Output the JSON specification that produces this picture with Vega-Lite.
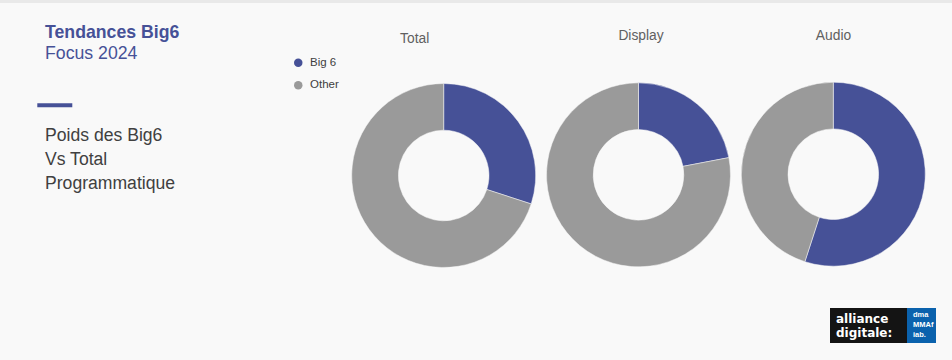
{
  "$schema": "https://vega.github.io/schema/vega-lite/v6.json",
  "width": 952,
  "height": 360,
  "autosize": {"type": "fit", "contains": "padding"},
  "padding": 0,
  "background": "#f9f9f9",
  "config": {"view": {"stroke": null}, "font": "Liberation Sans"},
  "datasets": {
    "donut": [
      {"chart": "Total", "segment": "Big 6", "value": 30},
      {"chart": "Total", "segment": "Other", "value": 70},
      {"chart": "Display", "segment": "Big 6", "value": 22},
      {"chart": "Display", "segment": "Other", "value": 78},
      {"chart": "Audio", "segment": "Big 6", "value": 55},
      {"chart": "Audio", "segment": "Other", "value": 45}
    ]
  },
  "resolve": {"scale": {"x": "independent", "y": "independent"}},
  "layer": [
    {
      "data": {"values": [{"label": "top"}]},
      "mark": {"type": "tick", "orient": "horizontal", "size": 952, "thickness": 3, "color": "#e9e9e9", "opacity": 1},
      "encoding": {
        "x": {"field": "label", "type": "nominal", "scale": {"type": "point", "range": [476, 476], "padding": 0}, "axis": null},
        "y": {"field": "label", "type": "nominal", "scale": {"type": "point", "range": [1.5, 1.5], "padding": 0}, "axis": null}
      }
    },
    {
      "data": {"name": "donut"},
      "transform": [
        {"stack": "value", "groupby": ["chart"], "sort": [{"field": "segment", "order": "ascending"}], "offset": "normalize", "as": ["v0", "v1"]}
      ],
      "mark": {"type": "arc", "outerRadius": 92, "innerRadius": 45.3, "stroke": "#f9f9f9", "strokeWidth": 0.5},
      "encoding": {
        "x": {"field": "chart", "type": "nominal", "scale": {"type": "point", "domain": ["Total", "Display", "Audio"], "range": [443.7, 833.3], "padding": 0}, "axis": null},
        "y": {"field": "chart", "type": "nominal", "scale": {"type": "point", "domain": ["Total", "Display", "Audio"], "range": [175.5, 174.2], "padding": 0}, "axis": null},
        "theta": {"field": "v0", "type": "quantitative", "stack": null, "scale": {"domain": [0, 1]}},
        "theta2": {"field": "v1"},
        "color": {
          "field": "segment",
          "type": "nominal",
          "scale": {"domain": ["Big 6", "Other"], "range": ["#465197", "#9a9a9a"]},
          "legend": {
            "orient": "none",
            "legendX": 292.5,
            "legendY": 57,
            "title": null,
            "padding": 0,
            "symbolType": "circle",
            "symbolSize": 72,
            "symbolStrokeWidth": 0,
            "symbolOpacity": 1,
            "labelFont": "Liberation Sans",
            "labelFontSize": 11.5,
            "labelColor": "#404040",
            "labelOffset": 6,
            "rowPadding": 9.5
          }
        },
        "tooltip": [{"field": "chart"}, {"field": "segment"}, {"field": "value"}]
      }
    },
    {
      "data": {"values": [{"chart": "Display"}, {"chart": "Audio"}]},
      "mark": {"type": "text", "align": "center", "baseline": "alphabetic", "font": "Liberation Sans", "fontSize": 13.8, "color": "#606060"},
      "encoding": {
        "text": {"field": "chart"},
        "x": {"field": "chart", "type": "nominal", "scale": {"type": "point", "domain": ["Display", "Audio"], "range": [641, 833.5], "padding": 0}, "axis": null},
        "y": {"field": "chart", "type": "nominal", "scale": {"type": "point", "domain": ["Display", "Audio"], "range": [40, 40], "padding": 0}, "axis": null}
      }
    },
    {
      "data": {"values": [{"chart": "Total"}]},
      "mark": {"type": "text", "align": "center", "baseline": "alphabetic", "font": "Liberation Sans", "fontSize": 13.8, "color": "#606060"},
      "encoding": {
        "text": {"field": "chart"},
        "x": {"field": "chart", "type": "nominal", "scale": {"type": "point", "range": [414.7, 414.7], "padding": 0}, "axis": null},
        "y": {"field": "chart", "type": "nominal", "scale": {"type": "point", "range": [43, 43], "padding": 0}, "axis": null}
      }
    },
    {
      "data": {"values": [{"label": "Tendances Big6"}]},
      "mark": {"type": "text", "align": "left", "baseline": "alphabetic", "font": "Liberation Sans", "fontSize": 17.7, "fontWeight": "bold", "color": "#465197"},
      "encoding": {
        "text": {"field": "label"},
        "x": {"field": "label", "type": "nominal", "scale": {"type": "point", "range": [45, 45], "padding": 0}, "axis": null},
        "y": {"field": "label", "type": "nominal", "scale": {"type": "point", "range": [38.3, 38.3], "padding": 0}, "axis": null}
      }
    },
    {
      "data": {"values": [{"label": "Focus 2024"}]},
      "mark": {"type": "text", "align": "left", "baseline": "alphabetic", "font": "Liberation Sans", "fontSize": 17.7, "color": "#465197"},
      "encoding": {
        "text": {"field": "label"},
        "x": {"field": "label", "type": "nominal", "scale": {"type": "point", "range": [45, 45], "padding": 0}, "axis": null},
        "y": {"field": "label", "type": "nominal", "scale": {"type": "point", "range": [59, 59], "padding": 0}, "axis": null}
      }
    },
    {
      "data": {"values": [{"label": "accent"}]},
      "mark": {"type": "tick", "orient": "horizontal", "size": 35, "thickness": 4, "color": "#465197", "opacity": 1},
      "encoding": {
        "x": {"field": "label", "type": "nominal", "scale": {"type": "point", "range": [54.8, 54.8], "padding": 0}, "axis": null},
        "y": {"field": "label", "type": "nominal", "scale": {"type": "point", "range": [105.3, 105.3], "padding": 0}, "axis": null}
      }
    },
    {
      "data": {"values": [{"label": "Poids des Big6"}, {"label": "Vs Total"}, {"label": "Programmatique"}]},
      "mark": {"type": "text", "align": "left", "baseline": "alphabetic", "font": "Liberation Sans", "fontSize": 17.6, "color": "#404040"},
      "encoding": {
        "text": {"field": "label"},
        "x": {"field": "label", "type": "nominal", "scale": {"type": "point", "domain": ["Poids des Big6", "Vs Total", "Programmatique"], "range": [45, 45], "padding": 0}, "axis": null},
        "y": {"field": "label", "type": "nominal", "scale": {"type": "point", "domain": ["Poids des Big6", "Vs Total", "Programmatique"], "range": [140.7, 189.3], "padding": 0}, "axis": null}
      }
    },
    {
      "data": {"values": [{"label": "alliance digitale"}]},
      "mark": {"type": "tick", "orient": "horizontal", "size": 77, "thickness": 35, "color": "#141414", "opacity": 1},
      "encoding": {
        "x": {"field": "label", "type": "nominal", "scale": {"type": "point", "range": [868.5, 868.5], "padding": 0}, "axis": null},
        "y": {"field": "label", "type": "nominal", "scale": {"type": "point", "range": [325.5, 325.5], "padding": 0}, "axis": null}
      }
    },
    {
      "data": {"values": [{"label": "dma iab"}]},
      "mark": {"type": "tick", "orient": "horizontal", "size": 29, "thickness": 35, "color": "#0b62ad", "opacity": 1},
      "encoding": {
        "x": {"field": "label", "type": "nominal", "scale": {"type": "point", "range": [921.5, 921.5], "padding": 0}, "axis": null},
        "y": {"field": "label", "type": "nominal", "scale": {"type": "point", "range": [325.5, 325.5], "padding": 0}, "axis": null}
      }
    },
    {
      "data": {"values": [{"label": "alliance"}, {"label": "digitale:"}]},
      "mark": {"type": "text", "align": "left", "baseline": "alphabetic", "font": "DejaVu Sans", "fontSize": 12, "fontWeight": "bold", "color": "#ffffff"},
      "encoding": {
        "text": {"field": "label"},
        "x": {"field": "label", "type": "nominal", "scale": {"type": "point", "domain": ["alliance", "digitale:"], "range": [836, 836], "padding": 0}, "axis": null},
        "y": {"field": "label", "type": "nominal", "scale": {"type": "point", "domain": ["alliance", "digitale:"], "range": [322.5, 337], "padding": 0}, "axis": null}
      }
    },
    {
      "data": {"values": [{"label": "dma"}, {"label": "MMAf"}, {"label": "iab."}]},
      "mark": {"type": "text", "align": "left", "baseline": "alphabetic", "font": "Liberation Sans", "fontSize": 7.5, "fontWeight": "bold", "color": "#ffffff"},
      "encoding": {
        "text": {"field": "label"},
        "x": {"field": "label", "type": "nominal", "scale": {"type": "point", "domain": ["dma", "MMAf", "iab."], "range": [913, 913], "padding": 0}, "axis": null},
        "y": {"field": "label", "type": "nominal", "scale": {"type": "point", "domain": ["dma", "MMAf", "iab."], "range": [317, 336.5], "padding": 0}, "axis": null}
      }
    }
  ]
}
